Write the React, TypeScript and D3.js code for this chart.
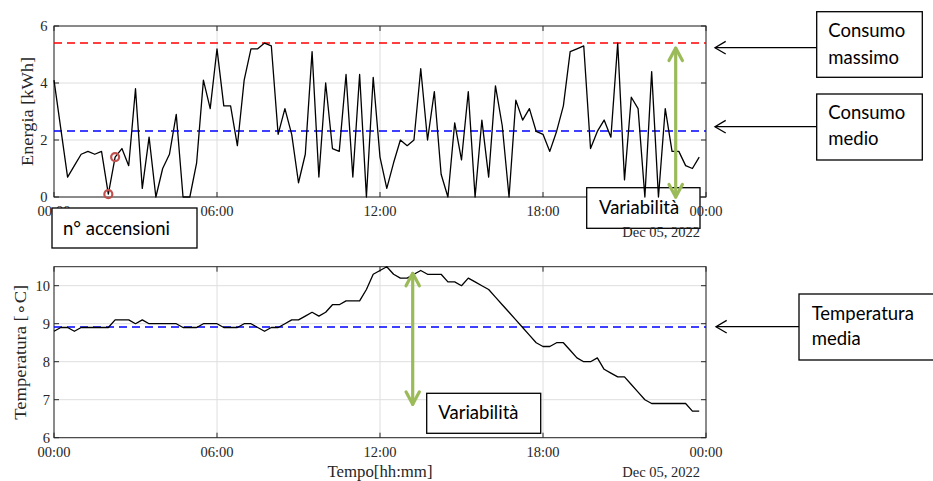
import React from 'react';
import * as d3 from 'd3';

// ---- data ----
const energy = [
  4.1, 2.4, 0.7, 1.1, 1.5, 1.6, 1.5, 1.6, 0.1, 1.4, 1.7, 1.1, 3.8, 0.3, 2.1, 0.0,
  1.0, 1.5, 2.9, 0.0, 0.0, 1.2, 4.1, 3.1, 5.2, 3.2, 3.2, 1.8, 4.1, 5.2, 5.2, 5.4,
  5.3, 2.2, 3.1, 2.2, 0.5, 1.5, 5.1, 0.7, 4.0, 1.7, 1.6, 4.3, 0.7, 4.3, 0.0, 4.2,
  1.4, 0.3, 1.2, 2.0, 1.8, 2.0, 4.5, 2.0, 3.7, 0.8, 0.0, 2.6, 1.3, 3.7, 0.0, 2.7,
  0.7, 3.9, 2.5, 0.0, 3.4, 2.7, 3.1, 2.3, 2.2, 1.6, 2.3, 3.2, 5.1, 5.2, 5.3, 1.7,
  2.3, 2.7, 2.1, 5.4, 0.6, 3.5, 3.1, 0.0, 4.4, 0.0, 3.1, 1.6, 1.6, 1.1, 1.0, 1.4,
];
const temperature = [
  8.8, 8.9, 8.9, 8.8, 8.9, 8.9, 8.9, 8.9, 8.9, 9.1, 9.1, 9.1, 9.0, 9.1, 9.0, 9.0,
  9.0, 9.0, 9.0, 8.9, 8.9, 8.9, 9.0, 9.0, 9.0, 8.9, 8.9, 8.9, 9.0, 9.0, 8.9, 8.8,
  8.9, 8.9, 9.0, 9.1, 9.1, 9.2, 9.3, 9.2, 9.3, 9.5, 9.5, 9.6, 9.6, 9.6, 9.9, 10.3,
  10.4, 10.5, 10.3, 10.2, 10.2, 10.3, 10.4, 10.3, 10.3, 10.3, 10.1, 10.1, 10.0, 10.2,
  10.1, 10.0, 9.9, 9.7, 9.5, 9.3, 9.1, 8.9, 8.7, 8.5, 8.4, 8.4, 8.5, 8.5, 8.3, 8.1,
  8.0, 8.0, 8.1, 7.8, 7.7, 7.6, 7.6, 7.4, 7.2, 7.0, 6.9, 6.9, 6.9, 6.9, 6.9, 6.9,
  6.7, 6.7,
];
const switchOnIndices = [8, 9];
const energyMax = 5.4;
const energyMean = 2.32;
const temperatureMean = 8.91;
const xTickHours = [0, 6, 12, 18, 24];
const xTickLabels = ['00:00', '06:00', '12:00', '18:00', '00:00'];
const energyTicks = [0, 2, 4, 6];
const temperatureTicks = [6, 7, 8, 9, 10];
const dateLabel = 'Dec 05, 2022';

// ---- layout ----
const W = 933;
const H = 481;
const start = new Date(2022, 11, 5, 0, 0);
const end = new Date(2022, 11, 6, 0, 0);
const times = d3.timeMinute.every(15)!.range(start, end);

const serif = "'Liberation Serif', 'Times New Roman', serif";
const sans = "Lato, 'Open Sans', sans-serif";
const axisColor = '#262626';
const gridColor = '#dedede';
const green = '#9bbb59';

const x = d3.scaleTime().domain([start, end]).range([54, 706]);
const hourToDate = (h: number) => d3.timeHour.offset(start, h);

type PanelProps = {
  top: number;
  bottom: number;
  domain: [number, number];
  ticks: number[];
  values: number[];
  children?: React.ReactNode;
  overlay?: (y: d3.ScaleLinear<number, number>) => React.ReactNode;
  underlay?: (y: d3.ScaleLinear<number, number>) => React.ReactNode;
  yLabel: string;
  yLabelX: number;
  yLabelLen: number;
  tickLabelX: number;
  xLabelY: number;
  dateY: number;
  xTitle?: string;
};

function Panel(p: PanelProps) {
  const y = d3.scaleLinear().domain(p.domain).range([p.bottom, p.top]);
  const [x0, x1] = x.range();
  const line = d3
    .line<number>()
    .x((_, i) => x(times[i]))
    .y((d) => y(d));
  const tl = 5;
  return (
    <g>
      {p.ticks.map((t) => (
        <line key={'gy' + t} x1={x0} x2={x1} y1={y(t)} y2={y(t)} stroke={gridColor} strokeWidth={1} />
      ))}
      {xTickHours.map((h, i) => (
        <line key={'gx' + i} x1={x(hourToDate(h))} x2={x(hourToDate(h))} y1={p.top} y2={p.bottom} stroke={gridColor} strokeWidth={1} />
      ))}
      <rect x={x0} y={p.top} width={x1 - x0} height={p.bottom - p.top} fill="none" stroke={axisColor} strokeWidth={1} />
      {p.ticks.map((t) => (
        <g key={'ty' + t}>
          <line x1={x0} x2={x0 + tl} y1={y(t)} y2={y(t)} stroke={axisColor} />
          <line x1={x1} x2={x1 - tl} y1={y(t)} y2={y(t)} stroke={axisColor} />
        </g>
      ))}
      {xTickHours.map((h, i) => (
        <g key={'tx' + i}>
          <line x1={x(hourToDate(h))} x2={x(hourToDate(h))} y1={p.bottom} y2={p.bottom - tl} stroke={axisColor} />
          <line x1={x(hourToDate(h))} x2={x(hourToDate(h))} y1={p.top} y2={p.top + tl} stroke={axisColor} />
        </g>
      ))}
      {p.underlay && p.underlay(y)}
      <path d={line(p.values) || ''} fill="none" stroke="#000" strokeWidth={1.3} strokeLinejoin="round" />
      {p.overlay && p.overlay(y)}
      {p.ticks.map((t) => (
        <text key={'ly' + t} x={p.tickLabelX} y={y(t) + 5} textAnchor="end" fontFamily={serif} fontSize={14.5} fill={axisColor}>
          {t}
        </text>
      ))}
      {xTickHours.map((h, i) => (
        <text key={'lx' + i} x={x(hourToDate(h))} y={p.xLabelY} textAnchor="middle" fontFamily={serif} fontSize={14.5} fill={axisColor}>
          {xTickLabels[i]}
        </text>
      ))}
      <text x={700} y={p.dateY} textAnchor="end" fontFamily={serif} fontSize={14.5} fill={axisColor}>
        {dateLabel}
      </text>
      <text
        transform={`translate(${p.yLabelX},${(p.top + p.bottom) / 2}) rotate(-90)`}
        textAnchor="middle"
        fontFamily={serif}
        fontSize={17}
        textLength={p.yLabelLen}
        lengthAdjust="spacingAndGlyphs"
        fill={axisColor}
      >
        {p.yLabel}
      </text>
      {p.xTitle && (
        <text x={380} y={p.dateY} textAnchor="middle" fontFamily={serif} fontSize={17} textLength={105} lengthAdjust="spacingAndGlyphs" fill={axisColor}>
          {p.xTitle}
        </text>
      )}
      {p.children}
    </g>
  );
}

function DoubleArrow({ xPos, y1, y2 }: { xPos: number; y1: number; y2: number }) {
  const dx = 6.7;
  const dy = 12.5;
  return (
    <g stroke={green} strokeWidth={3.2} fill="none" strokeLinecap="round" strokeLinejoin="round">
      <line x1={xPos} x2={xPos} y1={y1} y2={y2} />
      <polyline points={`${xPos - dx},${y1 + dy} ${xPos},${y1} ${xPos + dx},${y1 + dy}`} />
      <polyline points={`${xPos - dx},${y2 - dy} ${xPos},${y2} ${xPos + dx},${y2 - dy}`} />
    </g>
  );
}

function LeftArrow({ x1, x2, yPos }: { x1: number; x2: number; yPos: number }) {
  return (
    <g stroke="#000" strokeWidth={1.3} fill="none">
      <line x1={x1} x2={x2} y1={yPos} y2={yPos} />
      <polyline points={`${x2 + 10.7},${yPos - 6.3} ${x2},${yPos} ${x2 + 10.7},${yPos + 6.3}`} />
    </g>
  );
}

function Box({ x0, y0, w, h, lines, tx, ty, lh = 26.5 }: { x0: number; y0: number; w: number; h: number; lines: string[]; tx: number; ty: number; lh?: number }) {
  return (
    <g>
      <rect x={x0} y={y0} width={w} height={h} fill="#fff" stroke="#000" strokeWidth={1.3} />
      {lines.map((l, i) => (
        <text key={i} x={tx} y={ty + i * lh} fontFamily={sans} fontSize={18.5} fill="#000">
          {l}
        </text>
      ))}
    </g>
  );
}

export default function App() {
  return (
    <svg width={W} height={H} viewBox={`0 0 ${W} ${H}`} style={{ position: 'absolute', left: 0, top: 0, background: '#fff' }}>
      <rect width={W} height={H} fill="#fff" />
      <Panel
        top={26}
        bottom={197}
        domain={[0, 6]}
        ticks={energyTicks}
        values={energy}
        yLabel="Energia [kWh]"
        yLabelX={33}
        yLabelLen={109}
        tickLabelX={47.5}
        xLabelY={216}
        dateY={236.5}
        underlay={(y) => (
          <g>
            <Box x0={586.7} y0={187.7} w={113.3} h={40.6} lines={['Variabilità']} tx={599} ty={214} />
            <line x1={54} x2={706} y1={y(energyMax)} y2={y(energyMax)} stroke="#ff0000" strokeWidth={1.5} strokeDasharray="8,5" />
            <line x1={54} x2={706} y1={y(energyMean)} y2={y(energyMean)} stroke="#0000ff" strokeWidth={1.5} strokeDasharray="8,5" />
          </g>
        )}
        overlay={(y) => (
          <g>
            {switchOnIndices.map((i) => (
              <circle key={i} cx={x(times[i])} cy={y(energy[i])} r={4} fill="none" stroke="#c0504d" strokeWidth={2.2} />
            ))}
            <DoubleArrow xPos={675.7} y1={y(energyMax) + 5} y2={y(0)} />
          </g>
        )}
      >
        <Box x0={52} y0={208} w={145} h={40} lines={['n° accensioni']} tx={63} ty={235} />
      </Panel>

      <Panel
        top={266.7}
        bottom={437.7}
        domain={[6, 10.5]}
        ticks={temperatureTicks}
        values={temperature}
        yLabel="Temperatura [∘C]"
        yLabelX={26}
        yLabelLen={135}
        tickLabelX={50}
        xLabelY={456.5}
        dateY={477}
        xTitle="Tempo[hh:mm]"
        underlay={(y) => (
          <g>
            <Box x0={426.7} y0={393.3} w={114} h={40} lines={['Variabilità']} tx={438.3} ty={419} />
            <line x1={54} x2={706} y1={y(temperatureMean)} y2={y(temperatureMean)} stroke="#0000ff" strokeWidth={1.5} strokeDasharray="8,5" />
          </g>
        )}
        overlay={() => <DoubleArrow xPos={412.7} y1={273.3} y2={404.3} />}
      />

      <LeftArrow x1={816.7} x2={715} yPos={47.7} />
      <Box x0={816.7} y0={11.7} w={105.6} h={65.6} lines={['Consumo', 'massimo']} tx={828.3} ty={37} />
      <LeftArrow x1={816.7} x2={715} yPos={126.7} />
      <Box x0={816.7} y0={94} w={105.6} h={66} lines={['Consumo', 'medio']} tx={828.3} ty={118.5} />
      <LeftArrow x1={799} x2={716} yPos={326.7} />
      <Box x0={799} y0={294} w={140} h={66} lines={['Temperatura', 'media']} tx={811.7} ty={320} lh={25} />
    </svg>
  );
}
